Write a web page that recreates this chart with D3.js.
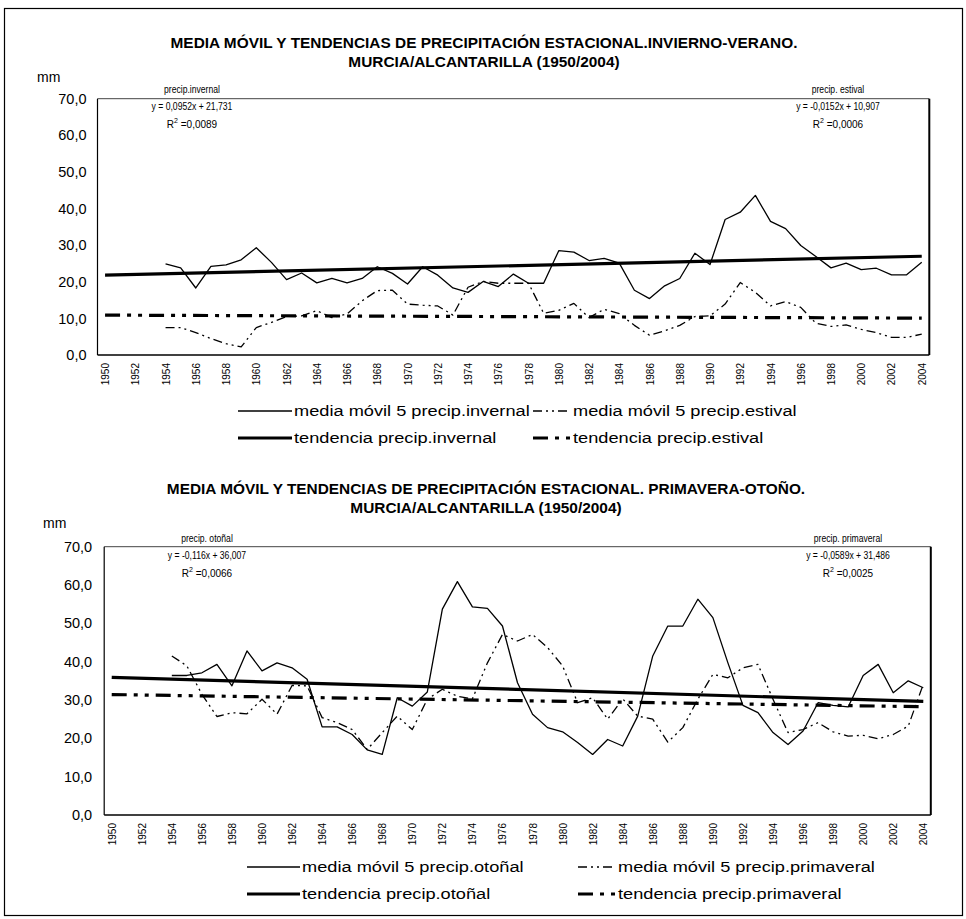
<!DOCTYPE html>
<html>
<head>
<meta charset="utf-8">
<script src="https://cdn.jsdelivr.net/npm/d3@7"></script>
<style>
  body { margin: 0; background: #fff; }
  svg { display: block; }
  text { font-family: "Liberation Sans", Arial, sans-serif; fill: #000; }
</style>
</head>
<body>
<svg id="chart" width="966" height="919"></svg>
<script>
// ---- data -------------------------------------------------------------
const years = d3.range(1950, 2005);            // categories 1950..2004
const tickYears = years.filter(y => y % 2 === 0);
const yTicks = [0, 10, 20, 30, 40, 50, 60, 70];
const maStartYear = 1954;                       // 5-year moving averages start here

// 5-year moving averages, 1954..2004 (mm)
const invernalMA = [24.9, 23.8, 18.3, 24.2, 24.6, 26.0, 29.3, 25.3, 20.6, 22.4,
                    19.7, 20.9, 19.7, 20.9, 24.1, 22.3, 19.4, 24.1, 21.8, 18.3,
                    17.1, 20.1, 18.7, 22.1, 19.6, 19.6, 28.5, 28.1, 25.8, 26.4,
                    25.1, 17.7, 15.4, 18.9, 20.9, 27.8, 24.7, 37.0, 39.0, 43.6,
                    36.5, 34.5, 29.9, 26.9, 23.8, 25.1, 23.3, 23.7, 21.9, 21.9,
                    25.3];
const estivalMA  = [7.5, 7.5, 6.1, 4.5, 3.1, 2.2, 7.5, 8.9, 10.5, 10.7,
                    12.1, 10.2, 11.2, 14.8, 17.6, 17.7, 13.9, 13.6, 13.4, 10.9,
                    18.5, 20.1, 19.6, 19.6, 19.6, 11.4, 12.2, 14.1, 10.2, 12.5,
                    11.3, 8.1, 5.4, 6.6, 8.1, 10.5, 10.7, 13.9, 19.8, 17.1,
                    13.4, 14.6, 13.0, 8.7, 7.8, 8.2, 7.0, 6.1, 4.8, 4.8,
                    5.7];
const otonalMA   = [36.4, 36.4, 37.1, 39.3, 33.7, 42.8, 37.6, 39.7, 38.4, 35.4,
                    23.0, 23.0, 21.0, 17.0, 15.8, 30.6, 28.4, 32.1, 53.7, 60.9,
                    54.3, 53.9, 49.3, 34.5, 26.3, 22.8, 21.7, 18.9, 15.8, 19.7,
                    18.0, 25.8, 41.5, 49.3, 49.3, 56.3, 51.5, 39.7, 28.6, 26.7,
                    21.5, 18.4, 21.9, 29.3, 28.6, 28.2, 36.4, 39.3, 31.9, 35.0,
                    33.2];
const primaveralMA = [41.5, 38.9, 31.5, 25.7, 26.7, 26.4, 30.2, 26.3, 33.8, 33.7,
                      25.4, 24.1, 22.3, 17.1, 21.5, 25.8, 22.3, 30.2, 32.8, 31.0,
                      30.3, 39.7, 47.1, 45.4, 47.1, 43.7, 38.9, 29.3, 30.6, 25.0,
                      30.3, 25.8, 25.0, 19.0, 22.8, 30.2, 36.7, 35.8, 38.4, 39.3,
                      30.2, 21.5, 22.3, 24.1, 21.7, 20.6, 20.8, 19.9, 21.0, 23.2,
                      34.1];

// linear trend fits [slope, intercept], x = 1..55
const trendInvernal   = [0.0952, 21.731];
const trendEstival    = [-0.0152, 10.907];
const trendOtonal     = [-0.116, 36.007];
const trendPrimaveral = [-0.0589, 31.486];

// ---- styles ----------------------------------------------------------
const styles = {
  maSolid:    { width: 1.3, dash: null },
  maDashDot:  { width: 1.3, dash: "9,4,2,4,2,4" },
  trendSolid: { width: 3.2, dash: null },
  trendDash:  { width: 3.2, dash: "15,7,4,7,4,7" }
};

const svg = d3.select("#chart");

// widen text horizontally by a factor (fonts in this chart are drawn stretched)
function stretch(sel, factor) {
  sel.each(function () {
    const w = this.getComputedTextLength();
    d3.select(this).attr("textLength", w * factor).attr("lengthAdjust", "spacingAndGlyphs");
  });
  return sel;
}

// outer frame
svg.append("rect")
  .attr("x", 4.5).attr("y", 8.5).attr("width", 958).attr("height", 907)
  .attr("fill", "none").attr("stroke", "#000").attr("stroke-width", 1.2);

function seriesPoints(values) {
  return values.map((v, i) => ({ year: maStartYear + i, value: v }));
}
function trendPoints(coef) {
  const [m, b] = coef;
  return [years[0], years[years.length - 1]].map(yr => ({ year: yr, value: m * (yr - years[0] + 1) + b }));
}
function fmt(v) { return d3.format(".1f")(v).replace(".", ","); }

function drawPanel(p) {
  const g = svg.append("g");
  const x = d3.scalePoint().domain(years).range([p.left, p.right]).padding(0.5);
  const y = d3.scaleLinear().domain([0, 70]).range([p.bottom, p.top]);

  // titles
  p.titles.forEach((t, i) => {
    const tt = g.append("text").attr("x", p.titleX).attr("y", p.titleY + i * 19)
      .attr("text-anchor", "middle").attr("font-weight", "bold")
      .attr("font-size", 14).text(t);
    stretch(tt, 1.1);
  });
  g.append("text").attr("x", p.mmX).attr("y", p.mmY)
    .attr("font-size", 14).text("mm");

  // y axis labels
  const yAxis = d3.axisLeft(y).tickValues(yTicks).tickSize(0).tickPadding(p.tickPad).tickFormat(fmt);
  const ya = g.append("g").attr("transform", `translate(${p.left},0)`).call(yAxis);
  ya.select(".domain").remove();
  ya.selectAll("text").attr("font-size", 14.5).attr("font-family", "Liberation Sans, Arial, sans-serif");

  // x axis labels (rotated)
  const xAxis = d3.axisBottom(x).tickValues(tickYears).tickSize(0).tickFormat(d3.format("d"));
  const xa = g.append("g").attr("transform", `translate(0,${p.bottom})`).call(xAxis);
  xa.select(".domain").remove();
  xa.selectAll("text")
    .attr("font-size", 10).attr("font-family", "Liberation Sans, Arial, sans-serif")
    .attr("transform", "rotate(-90)")
    .attr("text-anchor", "end").attr("x", -8).attr("y", 0).attr("dy", "0.35em");

  // plot frame
  g.append("line").attr("x1", p.left).attr("x2", p.right).attr("y1", p.top).attr("y2", p.top)
    .attr("stroke", "#444").attr("stroke-width", 1);
  g.append("line").attr("x1", p.left).attr("x2", p.left).attr("y1", p.top).attr("y2", p.bottom)
    .attr("stroke", "#000").attr("stroke-width", 1.2);
  g.append("line").attr("x1", p.left).attr("x2", p.right).attr("y1", p.bottom).attr("y2", p.bottom)
    .attr("stroke", "#000").attr("stroke-width", 1.4);
  g.append("line").attr("x1", p.right).attr("x2", p.right).attr("y1", p.top).attr("y2", p.bottom)
    .attr("stroke", "#000").attr("stroke-width", 2);

  const line = d3.line().x(d => x(d.year)).y(d => y(d.value));
  p.series.forEach(s => {
    g.append("path").datum(s.points)
      .attr("d", line).attr("fill", "none").attr("stroke", "#000")
      .attr("stroke-width", s.style.width)
      .attr("stroke-dasharray", s.style.dash)
      .attr("stroke-linejoin", "round");
  });

  // equation annotations
  p.notes.forEach(n => {
    const t = g.append("g");
    const a = t.append("text").attr("x", n.x).attr("y", n.y).attr("text-anchor", "middle")
      .attr("font-size", 10).text(n.name);
    const b = t.append("text").attr("x", n.x).attr("y", n.y + 17).attr("text-anchor", "middle")
      .attr("font-size", 10).text(n.eq);
    stretch(a, 0.86); stretch(b, 0.86);
    const r = t.append("text").attr("x", n.x).attr("y", n.y + 35).attr("text-anchor", "middle")
      .attr("font-size", 10);
    r.append("tspan").text("R");
    r.append("tspan").attr("dy", -5).attr("font-size", 7).text("2");
    r.append("tspan").attr("dy", 5).text(" =" + n.r2);
  });

  // legend
  p.legend.forEach(l => {
    g.append("line").attr("x1", l.x).attr("x2", l.x + l.w).attr("y1", l.y).attr("y2", l.y)
      .attr("stroke", "#000").attr("stroke-width", l.style.width)
      .attr("stroke-dasharray", l.style.dash);
    const lt = g.append("text").attr("x", l.x + l.w + 2).attr("y", l.y).attr("dy", "0.35em")
      .attr("font-size", 14).text(l.label);
    stretch(lt, 1.3);
  });
}

drawPanel({
  left: 97.5, right: 929.3, top: 98.7, bottom: 355,
  titleX: 484, titleY: 48, mmX: 37, mmY: 82, tickPad: 11,
  titles: ["MEDIA MÓVIL Y TENDENCIAS DE PRECIPITACIÓN ESTACIONAL.INVIERNO-VERANO.",
           "MURCIA/ALCANTARILLA (1950/2004)"],
  series: [
    { points: trendPoints(trendEstival), style: styles.trendDash },
    { points: trendPoints(trendInvernal), style: styles.trendSolid },
    { points: seriesPoints(estivalMA), style: styles.maDashDot },
    { points: seriesPoints(invernalMA), style: styles.maSolid }
  ],
  notes: [
    { x: 192, y: 93, name: "precip.invernal", eq: "y = 0,0952x + 21,731", r2: "0,0089" },
    { x: 838, y: 93, name: "precip. estival", eq: "y = -0,0152x + 10,907", r2: "0,0006" }
  ],
  legend: [
    { x: 238, y: 411, w: 54, style: styles.maSolid, label: "media móvil 5 precip.invernal" },
    { x: 533, y: 411, w: 38, style: styles.maDashDot, label: "media móvil 5 precip.estival" },
    { x: 238, y: 438, w: 54, style: styles.trendSolid, label: "tendencia precip.invernal" },
    { x: 533, y: 438, w: 38, style: styles.trendDash, label: "tendencia precip.estival" }
  ]
});

drawPanel({
  left: 104.2, right: 930.8, top: 546.7, bottom: 815,
  titleX: 486, titleY: 494, mmX: 43, mmY: 528, tickPad: 12,
  titles: ["MEDIA MÓVIL Y TENDENCIAS DE PRECIPITACIÓN ESTACIONAL. PRIMAVERA-OTOÑO.",
           "MURCIA/ALCANTARILLA (1950/2004)"],
  series: [
    { points: trendPoints(trendPrimaveral), style: styles.trendDash },
    { points: trendPoints(trendOtonal), style: styles.trendSolid },
    { points: seriesPoints(primaveralMA), style: styles.maDashDot },
    { points: seriesPoints(otonalMA), style: styles.maSolid }
  ],
  notes: [
    { x: 207, y: 542, name: "precip. otoñal", eq: "y = -0,116x + 36,007", r2: "0,0066" },
    { x: 848, y: 542, name: "precip. primaveral", eq: "y = -0,0589x + 31,486", r2: "0,0025" }
  ],
  legend: [
    { x: 247, y: 867, w: 53, style: styles.maSolid, label: "media móvil 5 precip.otoñal" },
    { x: 578, y: 867, w: 38, style: styles.maDashDot, label: "media móvil 5 precip.primaveral" },
    { x: 247, y: 894, w: 53, style: styles.trendSolid, label: "tendencia precip.otoñal" },
    { x: 578, y: 894, w: 38, style: styles.trendDash, label: "tendencia precip.primaveral" }
  ]
});
</script>
</body>
</html>
